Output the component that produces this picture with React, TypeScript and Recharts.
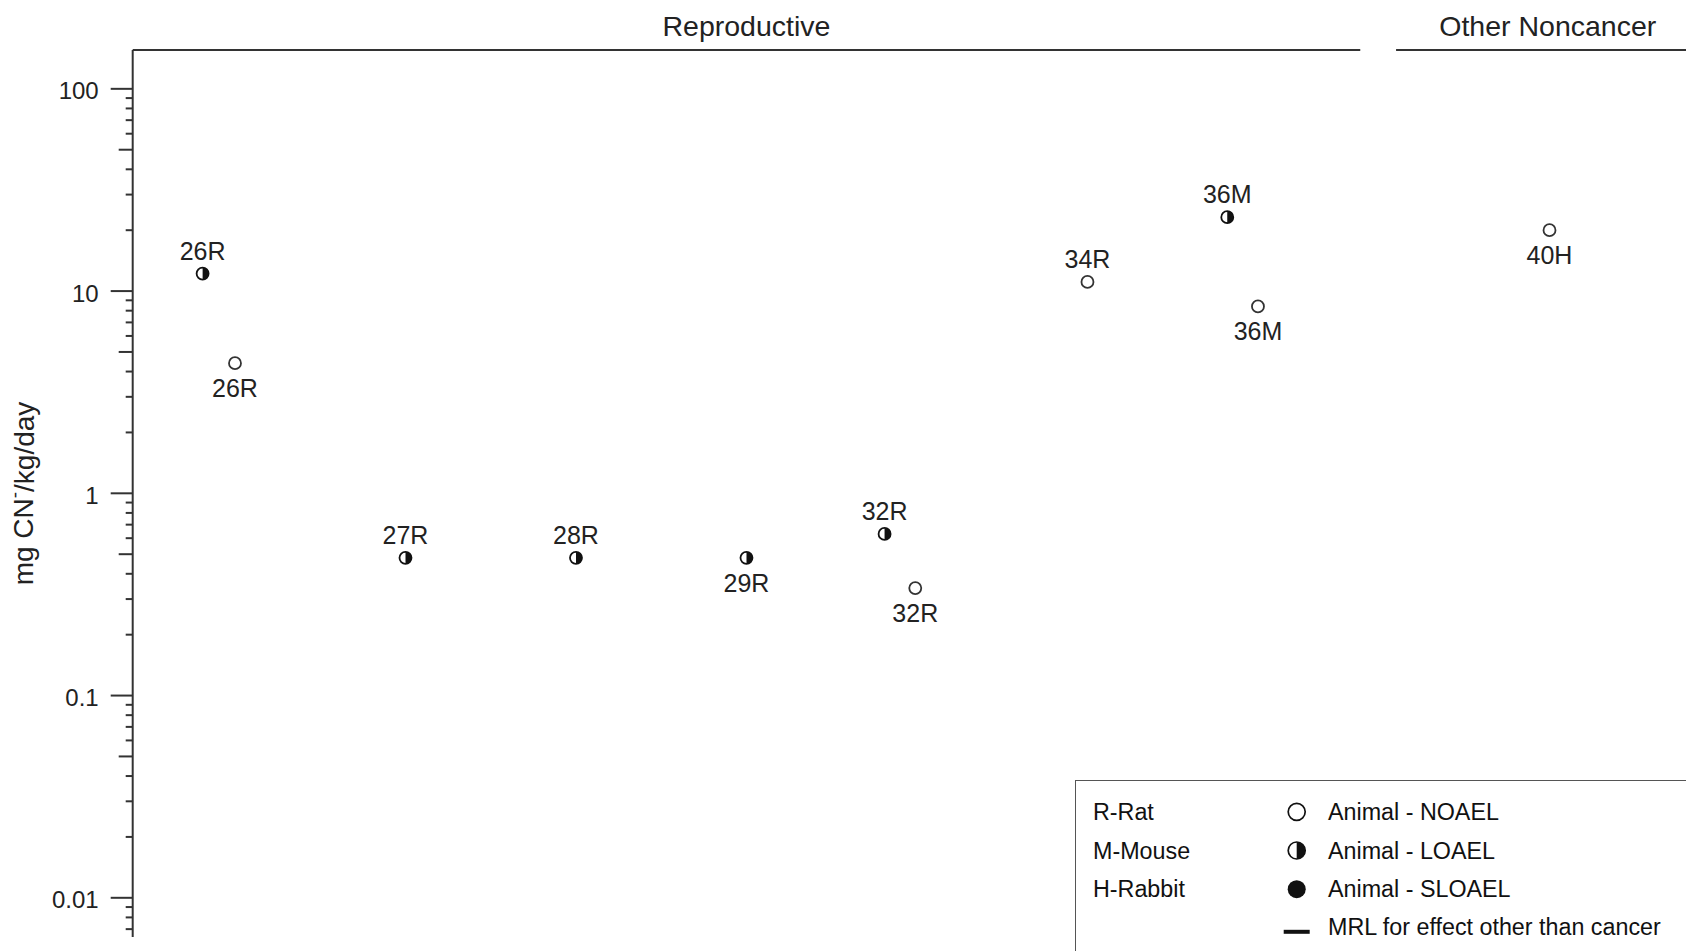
import React from 'react'
import { ScatterChart, Scatter, XAxis, YAxis, ReferenceLine } from 'recharts'

const FONT = '"Liberation Sans", Arial, Helvetica, sans-serif'
const INK = '#222'

// LOAEL points: study key, column on the (hidden) x axis, dose, label side
const loaelStudy = ['26R', '27R', '28R', '29R', '32R', '36M']
const loaelColumn = [0.41, 1.6, 2.6, 3.6, 4.41, 6.42]
const loaelDose = [12.2, 0.48, 0.48, 0.48, 0.63, 23.2]
const loaelSide = ['above', 'above', 'above', 'below', 'above', 'above']

// NOAEL points
const noaelStudy = ['26R', '32R', '34R', '36M', '40H']
const noaelColumn = [0.6, 4.59, 5.6, 6.6, 8.31]
const noaelDose = [4.4, 0.34, 11.1, 8.4, 20]
const noaelSide = ['below', 'below', 'above', 'below', 'below']

// section headers along the top of the plot
const sectionNames = ['Reproductive', 'Other Noncancer']
const sectionStart = [0, 7.41]
const sectionEnd = [7.2, 9.19]

const majorTicks = [0.01, 0.1, 1, 10, 100]
const tickLabels = ['0.01', '0.1', '1', '10', '100']
const decades = [0.001, 0.01, 0.1, 1, 10]
const minorSteps = [2, 3, 4, 5, 6, 7, 8, 9]

const X_DOMAIN: [number, number] = [0, 9.3]
const Y_DOMAIN: [number, number] = [0.0064, 155.6]

const loaelData = loaelStudy.map((s, i) => ({ study: s, x: loaelColumn[i], dose: loaelDose[i], side: loaelSide[i] }))
const noaelData = noaelStudy.map((s, i) => ({ study: s, x: noaelColumn[i], dose: noaelDose[i], side: noaelSide[i] }))

const allTicks = [
  ...majorTicks,
  ...decades.flatMap(d => minorSteps.map(m => d * m)),
].filter(v => v >= Y_DOMAIN[0] && v <= Y_DOMAIN[1]).sort((a, b) => a - b)

const near = (a: number, b: number) => Math.abs(a - b) / b < 1e-6

function DoseTick({ x, y, payload }: any) {
  const v = payload.value
  const major = majorTicks.findIndex(m => near(v, m))
  const half = decades.some(d => near(v, d * 5))
  const len = major >= 0 ? 22 : half ? 14 : 7
  return (
    <g>
      <line x1={x} x2={x - len} y1={y} y2={y} stroke="#333" strokeWidth={2} />
      {major >= 0 && (
        <text x={x - 34} y={y + 2} textAnchor="end" dominantBaseline="central"
          fontFamily={FONT} fontSize={24} fill={INK}>
          {tickLabels[major]}
        </text>
      )}
    </g>
  )
}

function AxisTitle({ viewBox }: any) {
  const cx = viewBox.x + 23
  const cy = viewBox.y + viewBox.height / 2
  return (
    <text x={cx} y={cy} transform={`rotate(-90, ${cx}, ${cy})`} textAnchor="middle"
      dominantBaseline="central" fontFamily={FONT} fontSize={28} fill={INK}>
      mg CN<tspan dy={-10} fontSize={19}>-</tspan><tspan dy={10}>/kg/day</tspan>
    </text>
  )
}

function PointLabel({ cx, cy, payload }: any) {
  const dy = payload.side === 'above' ? -23 : 25
  return (
    <text x={cx} y={cy + dy} textAnchor="middle" dominantBaseline="central"
      fontFamily={FONT} fontSize={25} fill={INK}>
      {payload.study}
    </text>
  )
}

function NoaelMark(props: any) {
  const { cx, cy } = props
  return (
    <g>
      <circle cx={cx} cy={cy} r={6} fill="#fff" stroke="#333" strokeWidth={1.8} />
      <PointLabel {...props} />
    </g>
  )
}

function LoaelMark(props: any) {
  const { cx, cy } = props
  const r = 6
  return (
    <g>
      <circle cx={cx} cy={cy} r={r} fill="#fff" stroke="#111" strokeWidth={1.8} />
      <path d={`M ${cx} ${cy - r} A ${r} ${r} 0 0 1 ${cx} ${cy + r} Z`} fill="#111" />
      <PointLabel {...props} />
    </g>
  )
}

function SectionTitle({ viewBox, title }: any) {
  const { x, y, width } = viewBox
  return (
    <text x={x + width / 2} y={y - 24} textAnchor="middle" dominantBaseline="central"
      fontFamily={FONT} fontSize={28.5} fill={INK}>
      {title}
    </text>
  )
}

function KeyBox() {
  const rows = [30.8, 69.5, 108.2, 145.8]
  const sx = 220.7
  const r = 8.5
  const txt = { fontFamily: FONT, fontSize: 23.3, fill: '#111', dominantBaseline: 'central' as const }
  return (
    <div style={{
      position: 'absolute', left: 1075, top: 780, width: 700, height: 300,
      border: '1.5px solid #555', background: '#fff',
    }}>
      <svg width={700} height={300}>
        <text x={17} y={rows[0]} {...txt}>R-Rat</text>
        <text x={17} y={rows[1]} {...txt}>M-Mouse</text>
        <text x={17} y={rows[2]} {...txt}>H-Rabbit</text>

        <circle cx={sx} cy={rows[0]} r={r} fill="#fff" stroke="#111" strokeWidth={1.7} />
        <circle cx={sx} cy={rows[1]} r={r} fill="#fff" stroke="#111" strokeWidth={1.7} />
        <path d={`M ${sx} ${rows[1] - r} A ${r} ${r} 0 0 1 ${sx} ${rows[1] + r} Z`} fill="#111" />
        <circle cx={sx} cy={rows[2]} r={r + 0.5} fill="#111" />
        <line x1={sx - 13} x2={sx + 13} y1={rows[3] + 5} y2={rows[3] + 5} stroke="#111" strokeWidth={4} />

        <text x={252} y={rows[0]} {...txt}>Animal - NOAEL</text>
        <text x={252} y={rows[1]} {...txt}>Animal - LOAEL</text>
        <text x={252} y={rows[2]} {...txt}>Animal - SLOAEL</text>
        <text x={252} y={rows[3]} {...txt}>MRL for effect other than cancer</text>
      </svg>
    </div>
  )
}

export default function App() {
  return (
    <div style={{
      position: 'absolute', left: 0, top: 0, width: 1686, height: 951,
      overflow: 'hidden', background: '#fff',
    }}>
      <ScatterChart width={1760} height={951} margin={{ top: 50, right: 41.7, bottom: 14, left: 0.7 }}>
        <XAxis type="number" dataKey="x" domain={X_DOMAIN} hide allowDataOverflow />
        <YAxis
          type="number"
          dataKey="dose"
          scale="log"
          domain={Y_DOMAIN}
          allowDataOverflow
          ticks={allTicks}
          interval={0}
          width={132}
          tickSize={0}
          tickMargin={0}
          tickLine={false}
          tick={<DoseTick />}
          axisLine={{ stroke: '#333', strokeWidth: 2 }}
          label={(p: any) => <AxisTitle viewBox={p.viewBox} />}
        />
        {sectionNames.map((name, i) => (
          <ReferenceLine
            key={name}
            segment={[{ x: sectionStart[i], y: Y_DOMAIN[1] }, { x: sectionEnd[i], y: Y_DOMAIN[1] }]}
            stroke="#333"
            strokeWidth={2}
            ifOverflow="visible"
            label={(p: any) => <SectionTitle viewBox={p.viewBox} title={name} />}
          />
        ))}
        <Scatter data={noaelData} shape={<NoaelMark />} isAnimationActive={false} />
        <Scatter data={loaelData} shape={<LoaelMark />} isAnimationActive={false} />
      </ScatterChart>
      <KeyBox />
    </div>
  )
}
